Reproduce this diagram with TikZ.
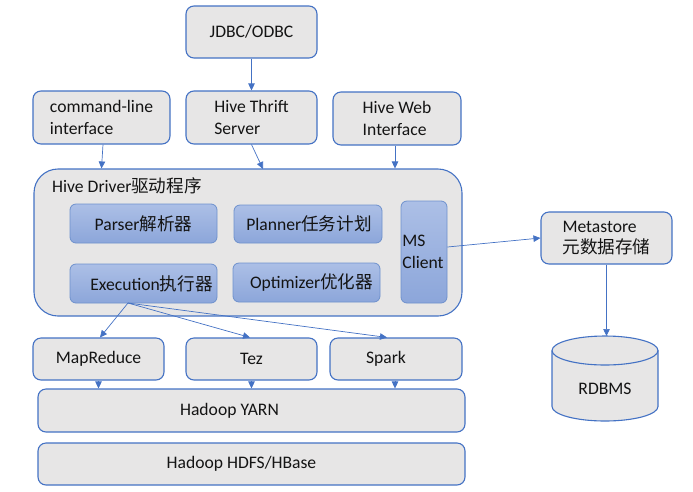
\documentclass[tikz,border=0pt]{standalone}
\usepackage{fontspec}
\setmainfont{Carlito}
\newfontfamily\cjk{Noto Sans CJK SC}
\usetikzlibrary{arrows.meta}
\definecolor{boxfill}{RGB}{231,230,230}
\definecolor{boxline}{RGB}{68,114,196}
\definecolor{arr}{RGB}{68,114,196}
\definecolor{intop}{RGB}{172,191,230}
\definecolor{inbot}{RGB}{140,166,218}
\definecolor{inline}{RGB}{110,145,205}
\definecolor{txt}{RGB}{20,20,20}
\begin{document}
\begin{tikzpicture}[x=1pt,y=1pt,
  every node/.style={font=\fontsize{17.6}{21.5}\selectfont, text=txt},
  graybox/.style={draw=boxline, line width=1.1pt, fill=boxfill, rounded corners=8pt, inner sep=0pt, align=left},
  bluebox/.style={draw=inline, line width=0.8pt, top color=intop, bottom color=inbot, rounded corners=6pt, inner sep=0pt, align=left},
  conn/.style={draw=arr, line width=0.7pt, -{Triangle[length=7pt,width=6.5pt]}}
]
\useasboundingbox (0,0) rectangle (693,-491);
% top row
\node[graybox, minimum width=131pt, minimum height=52pt] (jdbc) at (251.5,-32) {\raisebox{2pt}{JDBC/ODBC}};
\node[graybox, minimum width=137pt, minimum height=53pt] (cli) at (101.5,-117.5) {command-line\\interface};
\node[graybox, minimum width=131pt, minimum height=53pt] (thrift) at (251.5,-117.5) {Hive Thrift\\Server};
\node[graybox, minimum width=128pt, minimum height=53pt] (web) at (397,-118.5) {Hive Web\\Interface};
% driver
\node[graybox, rounded corners=24pt, minimum width=428pt, minimum height=147pt] (driver) at (248,-242.5) {};
\node[anchor=west, inner sep=0pt] (drvlabel) at (52,-186) {Hive Driver{\cjk 驱动程序}};
\node[bluebox, minimum width=147pt, minimum height=39pt] (parser) at (143.5,-223.5) {Parser{\cjk 解析器}};
\node[bluebox, minimum width=148pt, minimum height=38pt] (planner) at (308,-224) {\hspace*{2pt}Planner{\cjk 任务计划}};
\node[bluebox, minimum width=147pt, minimum height=39pt] (exec) at (143.5,-283.5) {\hspace*{16pt}Execution{\cjk 执行器}};
\node[bluebox, minimum width=147pt, minimum height=39pt] (optim) at (306.5,-282.5) {\hspace*{10pt}Optimizer{\cjk 优化器}};
\node[bluebox, minimum width=46pt, minimum height=102pt] (ms) at (424,-252) {MS\hspace*{20pt}\\Client};
% metastore
\node[graybox, minimum width=131pt, minimum height=52pt] (meta) at (606.5,-238) {Metastore\\{\cjk 元数据存储}};
% RDBMS cylinder
\filldraw[draw=boxline, line width=1.1pt, fill=boxfill] (552,-350.5) -- (552,-406.5) arc (180:360:53 and 14.5) -- (658,-350.5) arc (0:180:53 and 14.5) -- cycle;
\draw[draw=boxline, line width=1.1pt] (552,-350.5) arc (180:360:53 and 14.5);
\node (rdbms) at (605,-389) {RDBMS};
\coordinate (rdbmstop) at (605,-336);
% engines
\node[graybox, minimum width=131pt, minimum height=42pt] (mapr) at (98.5,-359) {MapReduce};
\node[graybox, minimum width=131pt, minimum height=42pt] (tez) at (251.5,-359) {Tez};
\node[graybox, minimum width=132pt, minimum height=42pt] (spark) at (396,-359) {Spark\hspace*{20pt}};
\node[graybox, minimum width=427pt, minimum height=43pt] (yarn) at (251.5,-410.5) {Hadoop YARN\hspace*{44pt}};
\node[graybox, minimum width=427pt, minimum height=42pt] (hdfs) at (251.5,-464) {\raisebox{-4pt}{Hadoop HDFS/HBase}\hspace*{20pt}};
% connectors
\draw[conn] (jdbc.south) -- (thrift.north);
\draw[conn] ([xshift=1.5pt]cli.south) -- (cli.south |- driver.north);
\coordinate (drvin) at (263,-169);
\draw[conn] (thrift.south) -- (drvin);
\draw[conn] ([xshift=-2pt]web.south) -- ([xshift=-2pt]web.south |- driver.north);
\draw[conn] ([yshift=5pt]ms.east) -- (meta.west);
\draw[conn] (meta.south) -- (meta.south |- rdbmstop);
\coordinate (exo) at (128,-303);
\draw[conn] (exo) -- ([xshift=1.5pt]mapr.north);
\draw[conn] (exo) -- ([xshift=-1.5pt]tez.north);
\draw[conn] (exo) -- ([xshift=-9pt]spark.north);
\draw[conn] (mapr.south) -- (mapr.south |- yarn.north);
\draw[conn] (tez.south) -- (tez.south |- yarn.north);
\draw[conn] ([xshift=-1pt]spark.south) -- ([xshift=-1pt]spark.south |- yarn.north);
\end{tikzpicture}
\end{document}
